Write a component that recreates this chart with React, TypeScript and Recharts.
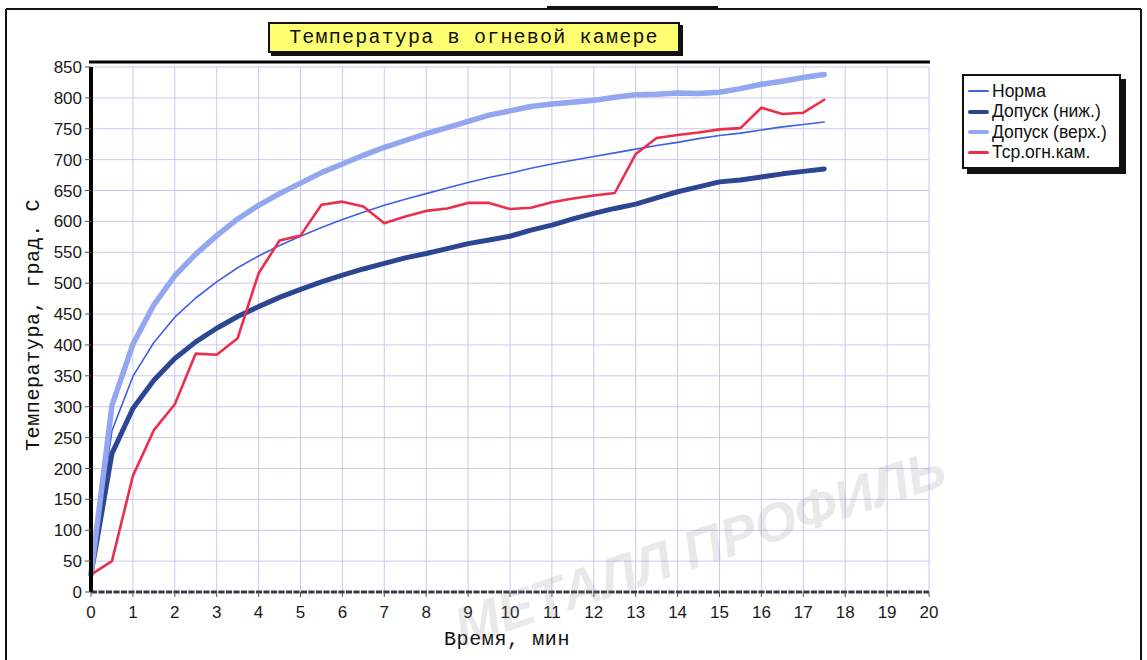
import { LineChart, Line, XAxis, YAxis, CartesianGrid, Legend } from 'recharts';

// время, мин
const TIME = [
  0, 0.5, 1, 1.5, 2, 2.5, 3, 3.5, 4, 4.5, 5, 5.5, 6, 6.5, 7, 7.5, 8, 8.5,
  9, 9.5, 10, 10.5, 11, 11.5, 12, 12.5, 13, 13.5, 14, 14.5, 15, 15.5, 16, 16.5, 17, 17.5,
];
const NORMA = [
  28, 261, 349, 404, 445, 476, 502, 525, 544, 561, 576, 590, 603, 615, 626, 636, 645, 654,
  663, 671, 678, 686, 693, 699, 705, 711, 717, 723, 728, 734, 739, 743, 748, 753, 757, 761,
];
const LOWER = [
  28, 224, 297, 343, 378, 405, 427, 446, 462, 477, 490, 502, 513, 523, 532, 541, 548, 556,
  564, 570, 576, 586, 594, 604, 613, 621, 628, 638, 648, 656, 664, 667, 672, 677, 681, 685,
];
const UPPER = [
  28, 302, 401, 465, 512, 547, 577, 604, 626, 645, 662, 679, 693, 707, 720, 731, 742, 752,
  762, 772, 779, 786, 790, 793, 796, 801, 805, 806, 808, 807, 809, 815, 822, 827, 833, 838,
];
const TSR = [
  28, 50, 188, 262, 304, 386, 384, 411, 516, 569, 577, 627, 632, 624, 597, 608, 617, 621,
  630, 630, 620, 622, 631, 637, 642, 646, 709, 735, 740, 744, 749, 751, 784, 774, 776, 797,
];

const X_TICKS = [0, 1, 2, 3, 4, 5, 6, 7, 8, 9, 10, 11, 12, 13, 14, 15, 16, 17, 18, 19, 20];
const Y_TICKS = [0, 50, 100, 150, 200, 250, 300, 350, 400, 450, 500, 550, 600, 650, 700, 750, 800, 850];

const SERIES = [
  { key: 'norma', name: 'Норма', color: '#3e5fe6', width: 1.6 },
  { key: 'lower', name: 'Допуск (ниж.)', color: '#2d4694', width: 5 },
  { key: 'upper', name: 'Допуск (верх.)', color: '#92a7ef', width: 5.5 },
  { key: 'tsr', name: 'Тср.огн.кам.', color: '#ec2e4c', width: 2.6 },
];

const data = TIME.map((t, i) => ({
  t,
  norma: NORMA[i],
  lower: LOWER[i],
  upper: UPPER[i],
  tsr: TSR[i],
}));

const MONO = '"Liberation Mono", "DejaVu Sans Mono", monospace';
const SANS = '"Liberation Sans", Arial, sans-serif';

const LegendBox = () => (
  <div
    style={{
      background: '#fff',
      border: '2px solid #111',
      boxShadow: '5px 5px 0 #111',
      padding: '5px 3px 4px 4px',
      width: 148,
      fontFamily: SANS,
      fontSize: 17.5,
      color: '#111',
    }}
  >
    {SERIES.map((s) => (
      <div key={s.key} style={{ display: 'flex', alignItems: 'center', height: 20.5, whiteSpace: 'nowrap' }}>
        <div
          style={{
            width: 21,
            height: Math.max(2, Math.min(s.width, 4)),
            background: s.color,
            marginRight: 3,
            borderRadius: 2,
          }}
        />
        <span>{s.name}</span>
      </div>
    ))}
  </div>
);

export default function App() {
  return (
    <div style={{ position: 'absolute', left: 0, top: 0, width: 1147, height: 660, background: '#fff' }}>
      <LineChart width={1147} height={660} data={data} margin={{ top: 67, right: 218, bottom: 0, left: 0 }}>
        <CartesianGrid stroke="#cdc7ea" strokeWidth={1} />
        <XAxis
          dataKey="t"
          type="number"
          domain={[0, 20]}
          ticks={X_TICKS}
          interval={0}
          height={68}
          tickSize={5}
          tickMargin={9}
          axisLine={{ stroke: '#3a3a4c', strokeWidth: 3, strokeDasharray: '6 1.5' }}
          tickLine={{ stroke: '#555' }}
          tick={{ fill: '#1a1a1a', fontSize: 17, fontFamily: SANS }}
        />
        <YAxis
          type="number"
          domain={[0, 850]}
          ticks={Y_TICKS}
          interval={0}
          width={91}
          tickSize={6}
          tickMargin={3}
          axisLine={{ stroke: '#000', strokeWidth: 4 }}
          tickLine={{ stroke: '#555' }}
          tick={{ fill: '#1a1a1a', fontSize: 17, fontFamily: SANS }}
        />
        <Legend
          layout="horizontal"
          verticalAlign="middle"
          align="center"
          wrapperStyle={{ left: 962, top: 74, width: 'auto' }}
          content={() => <LegendBox />}
        />
        {SERIES.map((s) => (
          <Line
            key={s.key}
            type="linear"
            dataKey={s.key}
            name={s.name}
            stroke={s.color}
            strokeWidth={s.width}
            dot={false}
            activeDot={false}
            isAnimationActive={false}
            strokeLinejoin="round"
            strokeLinecap="round"
          />
        ))}
      </LineChart>

      <svg
        width={1147}
        height={660}
        style={{ position: 'absolute', left: 0, top: 0, pointerEvents: 'none' }}
      >
        {/* рамка листа */}
        <line x1={6} y1={9} x2={1141} y2={9} stroke="#111" strokeWidth={2} />
        <line x1={6} y1={9} x2={6} y2={660} stroke="#111" strokeWidth={2} />
        <line x1={1141} y1={9} x2={1141} y2={660} stroke="#111" strokeWidth={2} />
        <line x1={547} y1={7} x2={718} y2={7} stroke="#111" strokeWidth={2} />
        {/* верхняя граница поля графика */}
        <line x1={89} y1={62} x2={930} y2={62} stroke="#000" strokeWidth={3} />

        <text
          x={33}
          y={325}
          transform="rotate(-90 33 325)"
          textAnchor="middle"
          dominantBaseline="central"
          fontFamily={MONO}
          fontSize={20}
          letterSpacing={0.6}
          fill="#111"
        >
          Температура, град. С
        </text>
        <text x={507} y={645} textAnchor="middle" fontFamily={MONO} fontSize={20} letterSpacing={0.6} fill="#111">
          Время, мин
        </text>

        {/* водяной знак */}
        <g opacity={0.18} transform="rotate(-18.5 700 548)">
          <text
            x={700}
            y={566}
            textAnchor="middle"
            fontFamily={SANS}
            fontWeight="bold"
            fontStyle="italic"
            fontSize={54}
            fill="#8a8a8a"
          >
            МЕТАЛЛ ПРОФИЛЬ
          </text>
        </g>
      </svg>

      <div
        style={{
          position: 'absolute',
          left: 268,
          top: 22,
          width: 408,
          height: 27,
          background: '#ffff72',
          border: '2px solid #111',
          boxShadow: '3px 3px 0 #111',
          fontFamily: MONO,
          fontSize: 20,
          letterSpacing: 1.2,
          lineHeight: '27px',
          textAlign: 'center',
          color: '#111',
        }}
      >
        Температура в огневой камере
      </div>
    </div>
  );
}
